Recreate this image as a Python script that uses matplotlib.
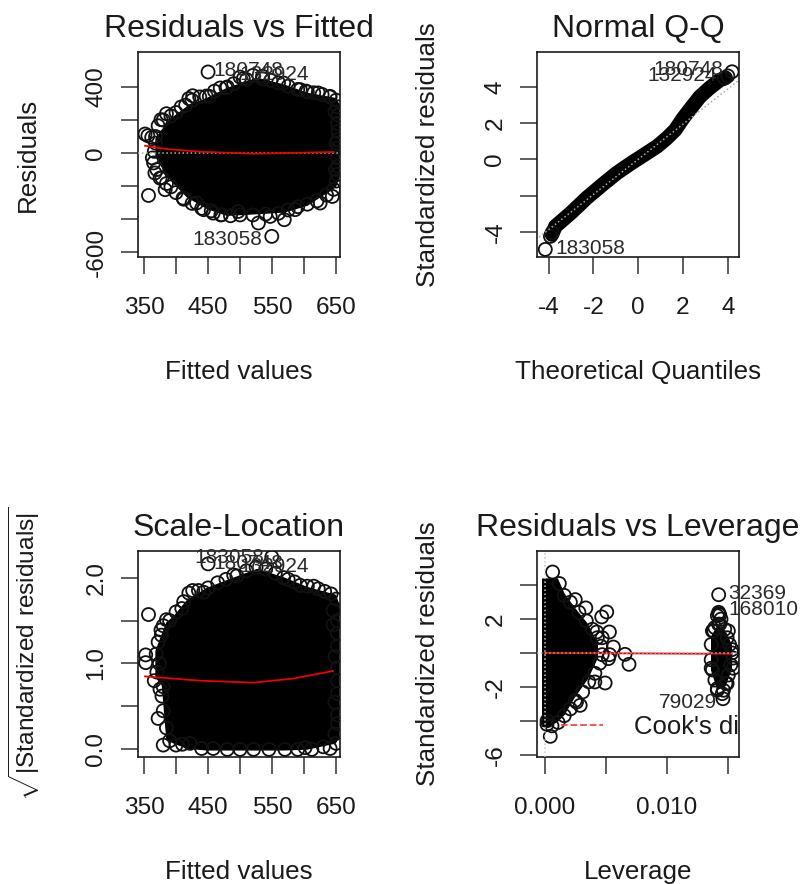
#!/usr/bin/env python3
"""Regression diagnostic plots, four panels"""

import matplotlib
matplotlib.use('Agg')
import matplotlib.pyplot as plt

plt.rcParams['font.family'] = ['Liberation Sans', 'DejaVu Sans']
plt.rcParams['mathtext.fontset'] = 'custom'
plt.rcParams['mathtext.rm'] = 'Liberation Sans'

INK = '#1a1a1a'

# Residuals vs Fitted: black body of the cloud, then the circles readable at its rim
rf_x = [368, 385, 396, 417, 448, 479, 526, 568, 604, 648, 653]
rf_upper = [90, 180, 222, 283, 333, 394, 455, 414, 364, 333, 300]
rf_lower = [-20, -130, -180, -263, -333, -374, -364, -354, -313, -202, -150]
rf_pts_x = [450, 549.5, 357, 351.6, 644, 528.6, 569, 547, 408, 426, 385, 376.5, 452, 469, 500,
            568, 640.6, 622, 594, 383, 367, 375, 411, 443, 471, 497, 586, 625, 458, 432,
            356, 362, 648, 650, 649, 510, 535, 480, 605, 420,
            372, 380, 392, 400, 415, 425, 437, 447, 460, 478, 490, 505, 520, 535, 548, 560, 575,
            590, 603, 615, 628, 640, 650, 652, 653, 652, 653, 652, 653, 652, 653, 652, 650, 646,
            635, 620, 605, 590, 575, 560, 540, 520, 500, 485, 470, 455, 440, 425, 412, 400, 392,
            385, 378, 370, 365, 363, 366, 368, 368]
rf_pts_y = [491, -505, -257, 115, -263, -424, -404, -384, 279, 347, 238, 202, 343, 394, 460,
            424, 343, 364, 384, -222, -121, -152, -273, -343, -374, -354, -343, -303, -364, -303,
            105, 95, 250, 60, -100, 445, 450, 400, 370, 330,
            165, 200, 225, 245, 290, 320, 340, 345, 375, 395, 420, 450, 470, 465, 440, 425, 405,
            385, 375, 365, 355, 340, 320, 280, 230, 180, 130, 80, 30, -30, -80, -130, -170, -220,
            -255, -290, -310, -325, -345, -365, -370, -375, -375, -380, -375, -350, -335, -305, -280, -240, -205,
            -185, -150, -100, -60, -30, 10, 60, 100]
rf_smooth_x = [351.6, 385, 437.5, 520.8, 645.8]
rf_smooth_y = [44, 24, 8, -4, 6]

# Normal Q-Q
qq_x = [-3.85, -3.7, -3.0, -2.3, -1.6, -0.96, -0.3, 0.38, 0.85, 1.27, 1.65, 2.0, 2.4, 2.75, 3.2, 3.64, 3.9]
qq_y = [-4.15, -3.7, -2.95, -2.13, -1.4, -0.76, -0.2, 0.34, 0.72, 1.16, 1.62, 2.26, 2.9, 3.45, 3.95, 4.37, 4.5]
qq_pts_x = [-4.15, -3.92, -3.85, 4.19, 4.0, 3.85]
qq_pts_y = [-4.97, -4.25, -4.05, 4.83, 4.6, 4.48]
qq_line_x = [-5, 5]
qq_line_y = [-4.85, 4.85]

# Scale-Location
sl_x = [368, 378, 385, 396, 417, 448, 479, 526, 568, 604, 648, 653]
sl_upper = [1.15, 1.35, 1.48, 1.55, 1.74, 1.88, 1.97, 2.10, 2.00, 1.89, 1.80, 1.7]
sl_lower = [0.85, 0.75, 0.12, 0.08, 0.02, 0.0, 0.0, 0.0, 0.0, 0.01, 0.08, 0.15]
sl_pts_x = [357, 352.6, 352.6, 385, 376.5, 380, 409, 426, 443, 450, 549.5, 490, 568, 594, 622,
            642, 645, 648, 380, 400, 372, 380, 422, 366, 380, 369, 601.5, 640.6, 648, 458, 521,
            645, 648, 374, 378,
            372, 377, 390, 400, 412, 420, 435, 450, 465, 478, 495, 510, 525, 540, 555, 575, 585,
            605, 615, 632, 650, 652, 652, 652, 652, 652, 652, 652, 652, 650, 630, 612, 590, 570,
            545, 500, 480, 440, 410, 390, 385, 370, 375]
sl_pts_y = [1.57, 1.10, 1.01, 1.51, 1.39, 1.44, 1.64, 1.85, 1.83, 2.16, 2.24, 2.03, 2.0, 1.91, 1.87,
            1.81, 1.62, 1.08, 0.05, 0.05, 0.36, 0.45, 0.07, 0.80, 0.73, 1.11, 0.02, 0.01, 0.18, 0.01, 0.0,
            1.45, 0.55, 1.0, 0.62,
            1.25, 1.33, 1.5, 1.6, 1.72, 1.82, 1.85, 1.88, 1.94, 1.98, 2.02, 2.08, 2.12, 2.1, 2.05, 1.98, 1.95,
            1.9, 1.9, 1.84, 1.75, 1.5, 1.35, 1.2, 0.95, 0.8, 0.65, 0.4, 0.3, 0.07, 0.03, 0.0, 0.0, 0.0,
            0.0, 0.0, 0.0, 0.01, 0.06, 0.1, 0.25, 0.9, 0.7]
sl_smooth_x = [351.6, 437, 520.6, 583, 645]
sl_smooth_y = [0.85, 0.80, 0.777, 0.824, 0.913]

# Residuals vs Leverage: left wedge and right cluster
rl_x = [-0.0002, 0.0003, 0.001, 0.00155, 0.00236, 0.00344, 0.00426]
rl_upper = [4.39, 4.4, 4.39, 3.5, 2.7, 1.73, 0.55]
rl_lower = [-4.3, -4.3, -4.0, -3.6, -2.6, -1.5, -0.25]
rl2_x = [0.0136, 0.0141, 0.0147, 0.0152]
rl2_upper = [1.0, 1.6, 1.3, 0.5]
rl2_lower = [-1.0, -2.1, -1.9, -0.9]
rl_pts_x = [0.00065, 0.00046, 0.00019, 0.0025, 0.00336, 0.00507, 0.00466, 0.00529, 0.00561, 0.00521,
            0.00656, 0.00689, 0.00494, 0.0029, 0.0025, 0.0041, 0.00426, 0.0047, 0.0053,
            0.01421, 0.01421, 0.0144, 0.01456, 0.0138, 0.0150, 0.0153, 0.0154, 0.0141, 0.0148, 0.0136, 0.0142,
            0.0012, 0.0016, 0.0021, 0.0028, 0.0034, 0.0039, 0.0043, 0.0046, 0.0047, 0.0045,
            0.0041, 0.0036, 0.0031, 0.0026, 0.0021, 0.0016, 0.0011, 0.0006, 0.0002,
            0.0137, 0.0139, 0.0143, 0.0147, 0.0149, 0.0151, 0.0153, 0.0154, 0.0152, 0.0150,
            0.0149, 0.0146, 0.0141, 0.0139, 0.0137, 0.0136, 0.0136, 0.01421, 0.0143, 0.0141, 0.0145]
rl_pts_y = [4.78, -4.92, -4.21, 3.15, 2.66, 2.42, 2.13, 1.24, 0.35, -0.33,
            -0.08, -0.67, -1.77, -3.09, -2.8, -1.71, 1.24, 0.9, -0.1,
            3.44, 2.32, 2.0, -2.7, 1.3, 1.3, 0.0, -0.9, -2.2, -1.8, -0.9, 1.7,
            4.1, 3.4, 3.0, 2.4, 1.9, 1.4, 0.9, 0.4, -0.1, -0.6,
            -1.2, -1.7, -2.3, -2.9, -3.3, -3.7, -4.1, -4.3, -4.0,
            1.3, 1.5, 1.7, 1.4, 0.9, 0.5, 0.2, -0.3, -0.7, -1.3,
            -1.8, -2.2, -2.1, -1.6, -1.0, -0.4, 0.5, 2.4, 2.25, 2.2, -2.4]
rl_fit_x = [0.0, 0.0153]
rl_fit_y = [0.0, -0.05]
cook_x = [0.0013, 0.0048]
cook_y = [-4.27, -4.27]

fig = plt.figure(figsize=(8.05, 8.84), dpi=100, facecolor='white')


def make_axes(left, right, top, bottom, xlim, ylim, xticks, xlabels, yticks, ylabels):
    ax = fig.add_axes([left / 805, 1 - bottom / 884, (right - left) / 805, (bottom - top) / 884])
    ax.set_xlim(xlim)
    ax.set_ylim(ylim)
    ax.set_xticks(xticks)
    ax.set_xticklabels(xlabels, fontsize=17.6, color=INK)
    ax.set_yticks(yticks)
    ax.set_yticklabels(ylabels, fontsize=17.6, color=INK, rotation=90, va='center')
    ax.tick_params(axis='x', length=12, width=1.1, color='#333333', pad=17)
    ax.tick_params(axis='y', length=12, width=1.1, color='#333333', pad=10)
    for spine in ax.spines.values():
        spine.set_linewidth(1.2)
        spine.set_color(INK)
    return ax


def finish(ax, title, xlabel, ylabel, ylabel_px, ylabel_size=18.7):
    ax.set_title(title, fontsize=23, color=INK, pad=0, y=1.0, va='center',
                 transform=ax.transAxes + matplotlib.transforms.ScaledTranslation(0, 23 / 100, fig.dpi_scale_trans))
    ax.set_xlabel(xlabel, fontsize=18.7, color=INK)
    ax.xaxis.set_label_coords(0.5, -0.50)
    ax.set_ylabel(ylabel, fontsize=ylabel_size, color=INK)
    box = ax.get_position()
    ax.yaxis.set_label_coords((ylabel_px / 805 - box.x0) / box.width, 0.5)


def circles(ax, x, y):
    ax.scatter(x, y, s=88, facecolors='none', edgecolors='#111111', linewidths=1.3, zorder=3)


def id_label(ax, x, y, label, ha='left'):
    ax.text(x, y, label, fontsize=15, color='#2a2a2a', ha=ha, va='center', zorder=6)


# panel 1
ax1 = make_axes(138, 340, 52, 257, (340.6, 656), (-630, 612),
                [350, 400, 450, 500, 550, 600, 650], ['350', '', '450', '', '550', '', '650'],
                [-600, -400, -200, 0, 200, 400], ['-600', '', '', '0', '', '400'])
ax1.fill_between(rf_x, rf_lower, rf_upper, color='black', zorder=2)
circles(ax1, rf_pts_x, rf_pts_y)
ax1.axhline(0, color='#b0b0b0', linestyle=':', linewidth=1.1, zorder=4)
ax1.plot(rf_smooth_x, rf_smooth_y, color='#ee0000', linewidth=1.3, zorder=5)
id_label(ax1, 459, 498, '180748')
id_label(ax1, 608, 474, '132924', ha='right')
id_label(ax1, 534, -527, '183058', ha='right')
finish(ax1, 'Residuals vs Fitted', 'Fitted values', 'Residuals', 40)

# panel 2
ax2 = make_axes(537, 739, 52, 257, (-4.52, 4.5), (-5.39, 5.92),
                [-4, -2, 0, 2, 4], ['-4', '-2', '0', '2', '4'],
                [-4, -2, 0, 2, 4], ['-4', '', '0', '2', '4'])
ax2.plot(qq_x, qq_y, color='black', linewidth=10.5, solid_capstyle='round', zorder=2)
circles(ax2, qq_pts_x, qq_pts_y)
ax2.plot(qq_line_x, qq_line_y, color='#a8a8a8', linestyle=':', linewidth=1.1, zorder=4)
id_label(ax2, 0.68, 4.98, '180748')
id_label(ax2, 3.5, 4.60, '132924', ha='right')
id_label(ax2, -3.68, -4.9, '183058')
finish(ax2, 'Normal Q-Q', 'Theoretical Quantiles', 'Standardized residuals', 440)

# panel 3
ax3 = make_axes(138, 340, 551, 757, (340.6, 656), (-0.089, 2.31),
                [350, 400, 450, 500, 550, 600, 650], ['350', '', '450', '', '550', '', '650'],
                [0, 0.5, 1, 1.5, 2], ['0.0', '', '1.0', '', '2.0'])
ax3.fill_between(sl_x, sl_lower, sl_upper, color='black', zorder=2)
circles(ax3, sl_pts_x, sl_pts_y)
ax3.plot(sl_smooth_x, sl_smooth_y, color='#ee0000', linewidth=1.3, zorder=5)
id_label(ax3, 429, 2.24, '183058')
id_label(ax3, 459, 2.16, '180748')
id_label(ax3, 608, 2.13, '132924', ha='right')
finish(ax3, 'Scale-Location', 'Fitted values',
       r'$\sqrt{|\mathrm{Standardized\ residuals}|}$', 42, ylabel_size=17.6)

# panel 4
ax4 = make_axes(537, 739, 551, 757, (-0.000624, 0.01587), (-6.14, 6.02),
                [0, 0.005, 0.010, 0.015], ['0.000', '', '0.010', ''],
                [-6, -4, -2, 0, 2, 4], ['-6', '', '-2', '', '2', ''])
ax4.fill_between(rl_x, rl_lower, rl_upper, color='black', zorder=2)
ax4.fill_between(rl2_x, rl2_lower, rl2_upper, color='black', zorder=2)
circles(ax4, rl_pts_x, rl_pts_y)
ax4.axhline(0, color='#b0b0b0', linestyle=':', linewidth=1.1, zorder=4)
ax4.axvline(0, color='#c8c8c8', linestyle=':', linewidth=1.1, zorder=4)
ax4.plot(rl_fit_x, rl_fit_y, color='#ee0000', linewidth=1.3, zorder=3.5)
ax4.plot(cook_x, cook_y, color='#ff4444', linestyle='--', linewidth=1.3, zorder=5)
id_label(ax4, 0.01500, 3.49, '32369')
id_label(ax4, 0.01500, 2.57, '168010')
id_label(ax4, 0.01405, -2.93, '79029', ha='right')
ax4.text(0.00733, -4.35, "Cook's distance", fontsize=18.5, color=INK, ha='left', va='center',
         clip_on=True, zorder=6)
finish(ax4, 'Residuals vs Leverage', 'Leverage', 'Standardized residuals', 440)

fig.savefig('out.png', dpi=100)
